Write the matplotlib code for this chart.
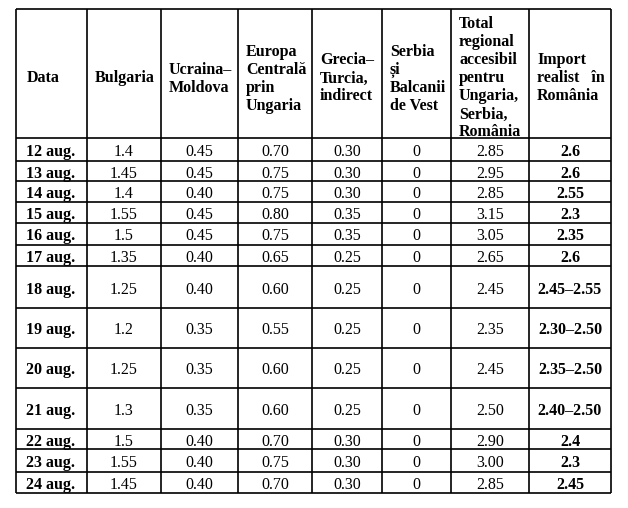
import matplotlib.pyplot as plt

plt.rcParams['font.family'] = ['Liberation Serif', 'DejaVu Serif']

headers = ['Data', 'Bulgaria', 'Ucraina–\nMoldova', 'Europa\nCentrală\nprin\nUngaria',
           'Grecia–\nTurcia,\nindirect', 'Serbia\nși\nBalcanii\nde Vest',
           'Total\nregional\naccesibil\npentru\nUngaria,\nSerbia,\nRomânia',
           'Import\nrealist   în\nRomânia']

dates = ['12 aug.', '13 aug.', '14 aug.', '15 aug.', '16 aug.', '17 aug.', '18 aug.',
         '19 aug.', '20 aug.', '21 aug.', '22 aug.', '23 aug.', '24 aug.']
bulgaria = ['1.4', '1.45', '1.4', '1.55', '1.5', '1.35', '1.25',
            '1.2', '1.25', '1.3', '1.5', '1.55', '1.45']
ucraina = ['0.45', '0.45', '0.40', '0.45', '0.45', '0.40', '0.40',
           '0.35', '0.35', '0.35', '0.40', '0.40', '0.40']
europa = ['0.70', '0.75', '0.75', '0.80', '0.75', '0.65', '0.60',
          '0.55', '0.60', '0.60', '0.70', '0.75', '0.70']
grecia = ['0.30', '0.30', '0.30', '0.35', '0.35', '0.25', '0.25',
          '0.25', '0.25', '0.25', '0.30', '0.30', '0.30']
serbia = ['0', '0', '0', '0', '0', '0', '0', '0', '0', '0', '0', '0', '0']
total = ['2.85', '2.95', '2.85', '3.15', '3.05', '2.65', '2.45',
         '2.35', '2.45', '2.50', '2.90', '3.00', '2.85']
import_ro = ['2.6', '2.6', '2.55', '2.3', '2.35', '2.6', '2.45–2.55',
             '2.30–2.50', '2.35–2.50', '2.40–2.50', '2.4', '2.3', '2.45']

# layout in pixels
col_edges = [16, 87, 161, 238, 312, 382, 451, 529, 611]
row_edges = [9, 138, 161, 181, 202, 223, 245, 266, 308, 348, 388, 429, 449, 472, 493]
fs = 11.5
line_h = 18


def main():
    fig = plt.figure(figsize=(6.28, 5.08), dpi=100)
    ax = fig.add_axes([0, 0, 1, 1])
    ax.set_xlim(0, 628)
    ax.set_ylim(508, 0)
    ax.axis('off')

    ax.hlines(row_edges, col_edges[0], col_edges[-1], color='black', lw=1.2)
    ax.vlines(col_edges, row_edges[0], row_edges[-1], color='black', lw=1.2)

    # header
    hc = (row_edges[0] + row_edges[1]) / 2 + 9
    for j, h in enumerate(headers):
        lines = h.split('\n')
        n = len(lines)
        x = col_edges[j] + (10.5 if j == 0 else 8)
        for i, ln in enumerate(lines):
            y = hc + (i - (n - 1) / 2) * line_h
            ax.text(x, y, ln, ha='left', va='baseline', fontsize=fs, fontweight='bold')

    columns = [dates, bulgaria, ucraina, europa, grecia, serbia, total, import_ro]
    for r in range(len(dates)):
        y = (row_edges[r + 1] + row_edges[r + 2]) / 2 + 6.5
        for j, col in enumerate(columns):
            if j == 0:
                ax.text(col_edges[0] + 10.5, y, col[r], ha='left', va='baseline',
                        fontsize=fs, fontweight='bold')
            else:
                xc = (col_edges[j] + col_edges[j + 1]) / 2
                w = 'bold' if j == len(columns) - 1 else 'normal'
                ax.text(xc, y, col[r], ha='center', va='baseline', fontsize=fs, fontweight=w)

    fig.savefig('out.png', dpi=100)


if __name__ == '__main__':
    main()
